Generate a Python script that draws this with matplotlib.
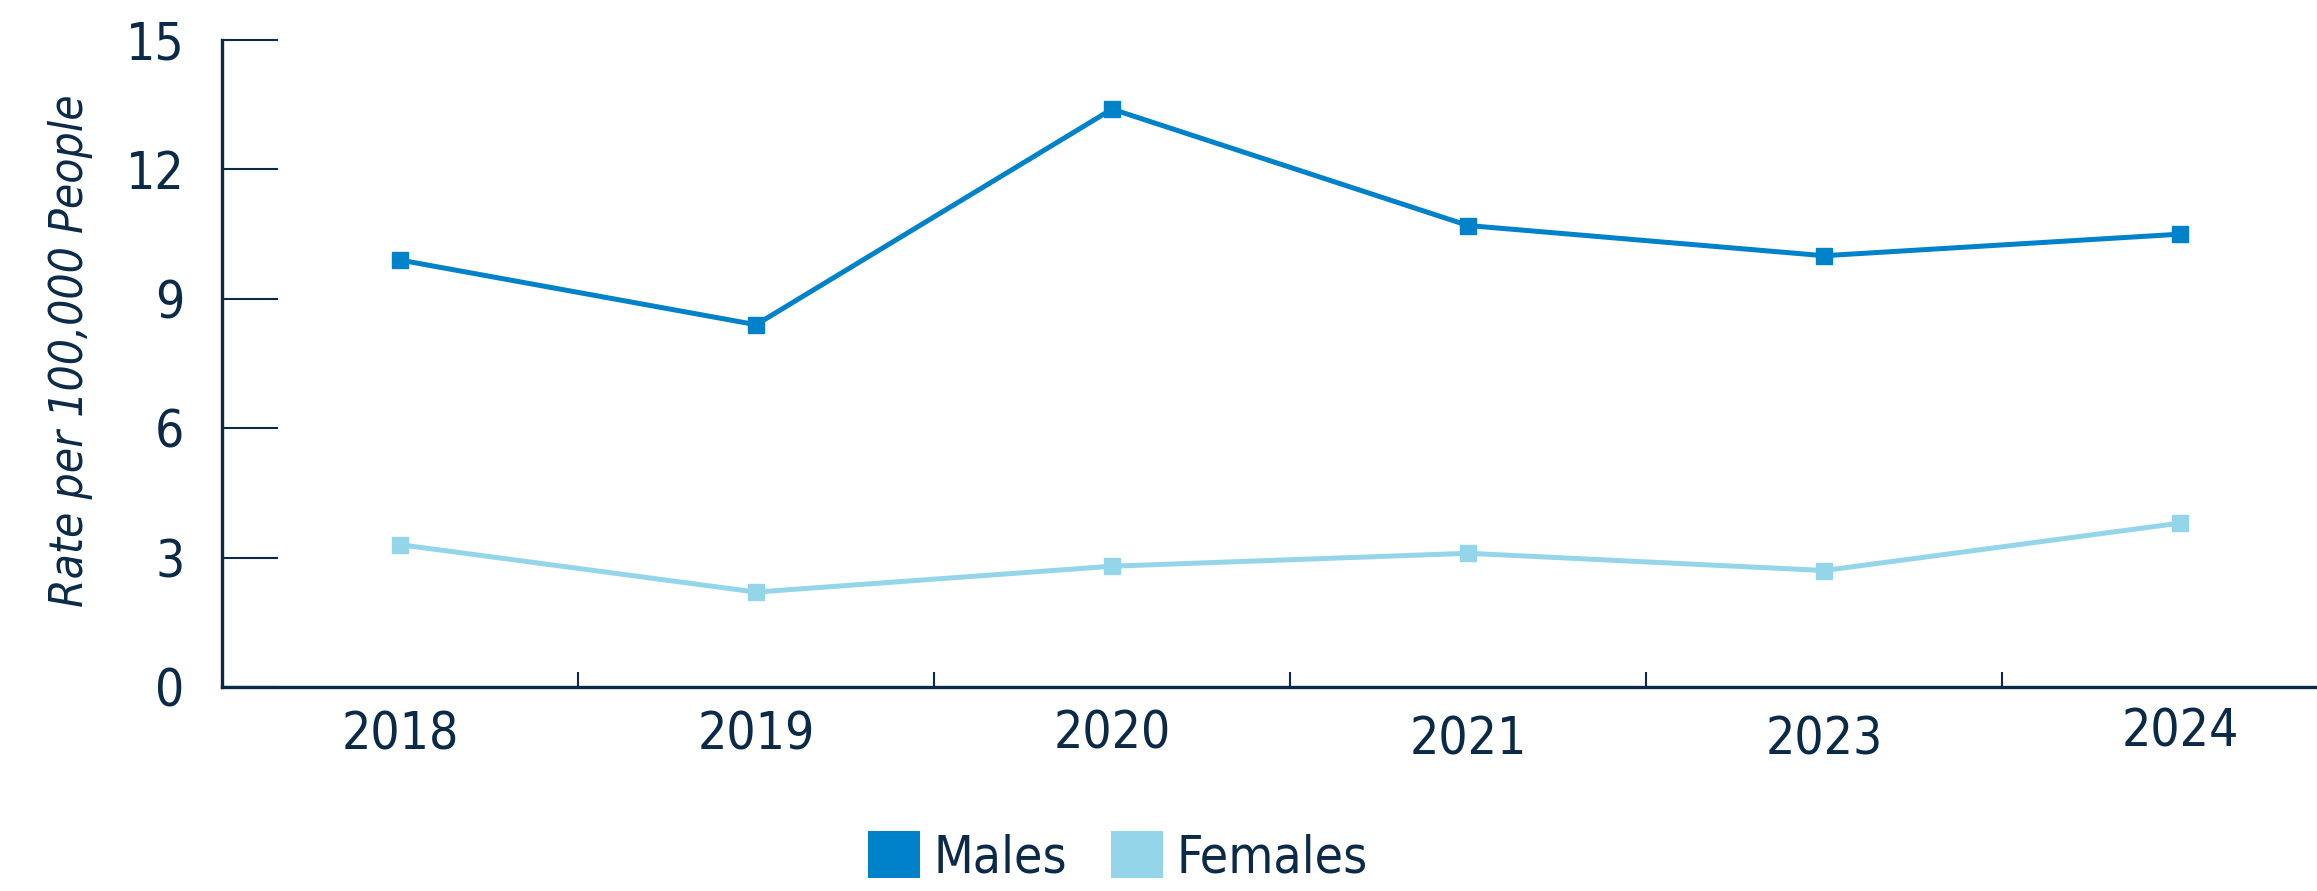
import matplotlib
matplotlib.use("Agg")
import matplotlib.pyplot as plt
from matplotlib import font_manager as fm
from matplotlib.patches import Patch
from matplotlib.transforms import ScaledTranslation

years = ["2018", "2019", "2020", "2021", "2023", "2024"]
males = [9.9, 8.4, 13.4, 10.7, 10.0, 10.5]
females = [3.3, 2.2, 2.8, 3.1, 2.7, 3.8]
y_ticks = [0, 3, 6, 9, 12, 15]
series_names = ["Males", "Females"]

MALE_C = "#0082ca"
FEMALE_C = "#94d5ea"
INK = "#0b2a47"


def pick_font(italic=False):
    """Find a condensed/narrow sans face if one is installed."""
    best = None
    for f in fm.fontManager.ttflist:
        name = f.name.lower()
        fname = f.fname.lower()
        narrow = ("condensed" in name or "narrow" in name or "condensed" in fname
                  or "narrow" in fname or str(f.stretch) in ("condensed", "semi-condensed"))
        if not narrow:
            continue
        if "mono" in name or "serif" in name and "sans" not in name:
            continue
        is_it = f.style in ("italic", "oblique")
        if is_it != italic:
            continue
        w = f.weight if isinstance(f.weight, int) else {"normal": 400, "regular": 400, "book": 400}.get(str(f.weight), 500)
        score = abs(w - 400)
        if "semi" in fname or "semicondensed" in fname:
            score += 50
        if best is None or score < best[0]:
            best = (score, f.fname)
    if best:
        return fm.FontProperties(fname=best[1])
    return None


fp_reg = pick_font(False)
fp_it = pick_font(True)
found = fp_reg is not None
if fp_reg is None:
    fp_reg = fm.FontProperties(family="DejaVu Sans")
if fp_it is None:
    fp_it = fm.FontProperties(family="DejaVu Sans", style="italic")

fig = plt.figure(figsize=(23.17, 8.91), dpi=100)
ax = fig.add_axes([0.0958, 0.229, 0.922, 0.726])

x = list(range(len(years)))
ax.plot(x, males, color=MALE_C, lw=3.6, marker="s", ms=12, mec=MALE_C, mfc=MALE_C)
ax.plot(x, females, color=FEMALE_C, lw=3.6, marker="s", ms=12, mec=FEMALE_C, mfc=FEMALE_C)

ax.set_xlim(-0.5, len(years) - 0.5)
ax.set_ylim(0, 15)

for s in ["top", "right"]:
    ax.spines[s].set_visible(False)
for s in ["left", "bottom"]:
    ax.spines[s].set_color(INK)
    ax.spines[s].set_linewidth(2.4)

tick_fs = 37 if found else 36

ax.set_yticks(y_ticks)
ax.set_yticklabels([str(v) for v in y_ticks])
ax.tick_params(axis="y", direction="in", length=40, width=1.5, color=INK,
               labelcolor=INK, pad=27)

ax.set_xticks([i + 0.5 for i in range(len(years) - 1)])
ax.set_xticklabels([])
ax.set_xticks(x, minor=True)
ax.set_xticklabels(years, minor=True)
ax.tick_params(axis="x", which="major", direction="in", length=11, width=1.5, color=INK)
ax.tick_params(axis="x", which="minor", length=0, labelcolor=INK, pad=17)

for lab in ax.get_yticklabels():
    lab.set_fontproperties(fp_reg)
    lab.set_fontsize(tick_fs)

offsets = [0, 0, 1, -3.2, -3.2, 2.2]
for lab, dy in zip(ax.get_xticklabels(minor=True), offsets):
    lab.set_fontproperties(fp_reg)
    lab.set_fontsize(tick_fs)
    lab.set_transform(lab.get_transform() + ScaledTranslation(0, dy / 72, fig.dpi_scale_trans))

yl = fig.text(0.0305, 0.606, "Rate per 100,000 People", rotation=90, ha="center", va="center",
              color=INK, fontproperties=fp_it)
yl.set_fontsize(33 if found else 30)

handles = [Patch(facecolor=MALE_C, edgecolor="none"), Patch(facecolor=FEMALE_C, edgecolor="none")]
leg_prop = fp_reg.copy()
leg_prop.set_size(tick_fs)
leg = fig.legend(handles, series_names, loc="center", bbox_to_anchor=(0.4825, 0.038), ncol=2,
                 frameon=False, prop=leg_prop, handlelength=37.4 / tick_fs,
                 handleheight=38.0 / tick_fs,
                 handletextpad=0.27, columnspacing=0.85, borderaxespad=0, borderpad=0)
for t in leg.get_texts():
    t.set_color(INK)

fig.savefig("out.png", dpi=100)
